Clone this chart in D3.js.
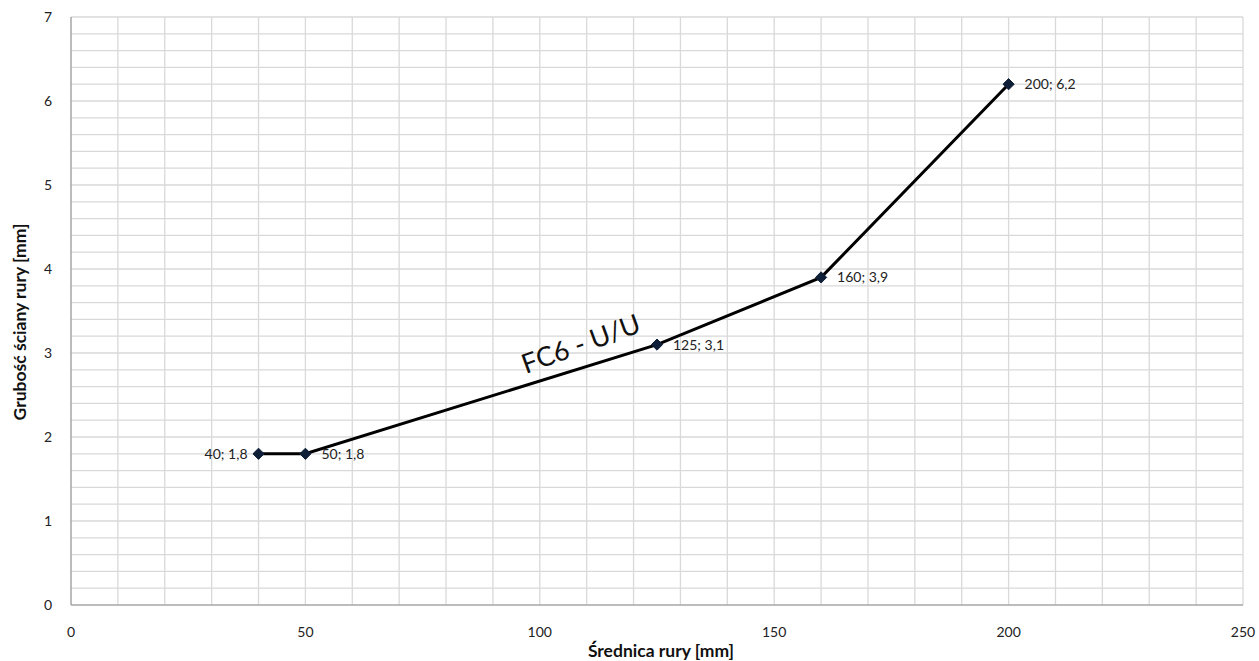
<!DOCTYPE html>
<html><head><meta charset="utf-8">
<script src="https://cdn.jsdelivr.net/npm/d3@7"></script>
<style>body{margin:0;background:#fff}svg{display:block}</style>
</head><body>
<script>
const xs = [40, 50, 125, 160, 200];
const ys = [1.8, 1.8, 3.1, 3.9, 6.2];
const pointLabels = ["40; 1,8", "50; 1,8", "125; 3,1", "160; 3,9", "200; 6,2"];
const xTicks = [0, 50, 100, 150, 200, 250];
const yTicks = [0, 1, 2, 3, 4, 5, 6, 7];
const xTitle = "Średnica rury [mm]";
const yTitle = "Grubość ściany rury [mm]";
const annotation = "FC6 - U/U";

const W = 1259, H = 661;
const m = {l: 71, r: 16, t: 17, b: 56};
const svg = d3.select("body").append("svg").attr("width", W).attr("height", H);
const x = d3.scaleLinear().domain([0, 250]).range([m.l, W - m.r]);
const y = d3.scaleLinear().domain([0, 7]).range([H - m.b, m.t]);
const font = "Lato, 'Open Sans', sans-serif";

const g = svg.append("g");
// grid
g.selectAll(".vg").data(d3.range(10, 251, 10)).join("line")
  .attr("x1", d => x(d)).attr("x2", d => x(d)).attr("y1", y(0)).attr("y2", y(7))
  .attr("stroke", "#d9d9d9").attr("stroke-width", 1.3);
g.selectAll(".hg").data(d3.range(1, 36).map(i => i * 0.2)).join("line")
  .attr("x1", x(0)).attr("x2", x(250)).attr("y1", d => y(d)).attr("y2", d => y(d))
  .attr("stroke", "#d9d9d9").attr("stroke-width", 1.3);
// axes
g.append("line").attr("x1", x(0)).attr("x2", x(0)).attr("y1", y(0)).attr("y2", y(7)).attr("stroke", "#a6a6a6").attr("stroke-width", 1.5);
g.append("line").attr("x1", x(0)).attr("x2", x(250)).attr("y1", y(0)).attr("y2", y(0)).attr("stroke", "#a6a6a6").attr("stroke-width", 1.5);

// tick labels
g.selectAll(".yt").data(yTicks).join("text")
  .attr("x", 52).attr("y", d => y(d) + 5).attr("text-anchor", "end")
  .attr("font-family", font).attr("font-size", 14).attr("fill", "#222").text(d => d);
g.selectAll(".xt").data(xTicks).join("text")
  .attr("x", d => x(d)).attr("y", 637).attr("text-anchor", "middle")
  .attr("font-family", font).attr("font-size", 14).attr("fill", "#222").text(d => d);

// titles
svg.append("text").attr("x", 661).attr("y", 657).attr("text-anchor", "middle")
  .attr("font-family", font).attr("font-weight", "bold").attr("font-size", 17.5).attr("fill", "#111").text(xTitle);
svg.append("text").attr("transform", `translate(26,322) rotate(-90)`).attr("text-anchor", "middle")
  .attr("font-family", font).attr("font-weight", "bold").attr("font-size", 17.5).attr("fill", "#111").text(yTitle);

// line
const pts = xs.map((d, i) => [d, ys[i]]);
g.append("path").datum(pts)
  .attr("d", d3.line().x(d => x(d[0])).y(d => y(d[1])))
  .attr("fill", "none").attr("stroke", "#000").attr("stroke-width", 3);
g.selectAll(".mk").data(pts).join("path")
  .attr("transform", d => `translate(${x(d[0])},${y(d[1])})`)
  .attr("d", d3.symbol(d3.symbolDiamond2, 80)())
  .attr("fill", "#0f1f38").attr("stroke", "#0f1f38").attr("stroke-width", 1);

// point labels
g.selectAll(".pl").data(pts).join("text")
  .attr("x", (d, i) => i === 0 ? x(d[0]) - 11 : x(d[0]) + 16)
  .attr("y", d => y(d[1]) + 5)
  .attr("text-anchor", (d, i) => i === 0 ? "end" : "start")
  .attr("font-family", font).attr("font-size", 14).attr("fill", "#222")
  .text((d, i) => pointLabels[i]);

// annotation
svg.append("text").attr("transform", `translate(${x(97)},${y(2.75)}) rotate(-20)`)
  .attr("font-family", font).attr("font-size", 27).attr("fill", "#111").text(annotation);
</script>
</body></html>
